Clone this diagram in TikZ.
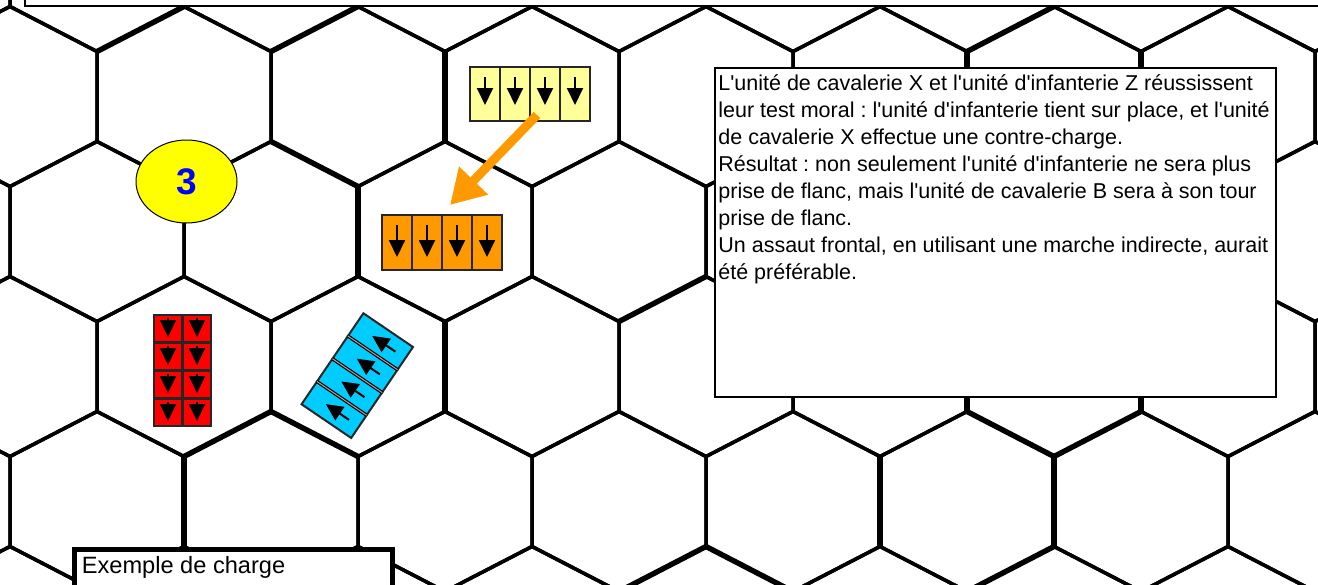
\documentclass[tikz,border=0pt]{standalone}
\usepackage{fontspec}
\newfontfamily\arial{Liberation Sans}
\usepackage{tikz}
\usetikzlibrary{shapes.geometric, arrows.meta}
\definecolor{jaunepale}{HTML}{FFFF99}
\definecolor{orangepion}{HTML}{FF9900}
\definecolor{rougepion}{HTML}{FF0000}
\definecolor{cyanpion}{HTML}{00CCFF}
\definecolor{jaunemarque}{HTML}{FFFF00}
\definecolor{bleumarque}{HTML}{0000FF}
\definecolor{orangefleche}{HTML}{FF9900}
\tikzset{
  hexline/.style={line width=1.75pt, black},
  hexfort/.style={line width=2.7pt, black},
  boite/.style={draw=black, fill=white, line width=0.7pt},
  titrebox/.style={draw=black, fill=white, line width=2.6pt},
  pion/.style={draw=black!85, line width=1pt},
  separation/.style={double=gray!70, double distance=0.5pt, line width=0.6pt},
  fleche/.style={-{Triangle[length=8.5pt,width=8pt]}, line width=1pt, black},
  chargearr/.style={-{Triangle[length=17pt,width=19pt]}, line width=4.5pt, orangefleche},
  marqueur/.style={ellipse, draw=black, line width=0.5pt, fill=jaunemarque, minimum width=50.5pt, minimum height=41.5pt, inner sep=0pt, text=bleumarque, font=\arial\bfseries\fontsize{18.5}{20}\selectfont},
  texte/.style={align=left, inner sep=0pt, anchor=base west},
}
\begin{document}
\begin{tikzpicture}[x=0.5pt, y=-0.5pt, font=\arial\frenchspacing\fontsize{10.75}{13.5}\selectfont]
  \useasboundingbox (0,0) rectangle (1318,584);
  \begin{scope}
    \clip (0,0) rectangle (1318,584);

    % Plateau hexagonal
    \foreach \r in {0,...,5} {
      \foreach \k in {-1,...,8} {
        \pgfmathsetmacro{\hx}{10+174*\k+87*mod(\r+1,2)}
        \pgfmathsetmacro{\hy}{96.5+135*(\r-1)}
        \draw[hexline] (\hx,\hy) +(0,-90) -- +(87,-45) -- +(87,45) -- +(0,90) -- +(-87,45) -- +(-87,-45) -- cycle;
      }
    }
    \foreach \xa/\ya/\xb/\yb in {97/51.5/184/6.5, 271/51.5/358/6.5, 967/51.5/1054/6.5, 445/51.5/445/141.5,
      967/51.5/967/141.5, 1141/51.5/1141/141.5, 271/141.5/358/186.5, 358/186.5/358/276.5,
      184/456.5/271/411.5, 271/411.5/358/456.5, 184/456.5/184/546.5, 706/276.5/619/321.5,
      445/321.5/445/411.5, 619/591.5/706/546.5, 706/546.5/793/591.5, 880/456.5/880/546.5,
      967/321.5/967/411.5, 1141/321.5/1141/411.5, 967/411.5/1054/456.5, 1054/456.5/1141/411.5,
      1054/456.5/1054/546.5, 1054/546.5/967/591.5}
      \draw[hexfort] (\xa,\ya) -- (\xb,\yb);

    % Cadres
    \draw[boite] (25,-10) rectangle (1330,6);
    \draw[boite] (715,68) rectangle (1276,397);
    \draw[titrebox] (74.5,549.5) rectangle (392.5,620);
  \end{scope}

  % Cavalerie qui charge
  \foreach \i in {0,...,3} {
    \draw[pion, fill=jaunepale] (470+30*\i,67) rectangle ++(30,54);
    \draw[fleche] (485+30*\i,77) -- ++(0,28);
  }
  % Position d'arrivee
  \foreach \i in {0,...,3} {
    \draw[pion, fill=orangepion] (382+30*\i,215) rectangle ++(30,55);
    \draw[fleche] (397+30*\i,225) -- ++(0,32);
  }
  % Infanterie
  \foreach \c in {0,1} {
    \foreach \l in {0,...,3} {
      \draw[pion, fill=rougepion] (154+29*\c,315+28*\l) rectangle ++(28,27);
      \draw[fleche] (168+29*\c,318+28*\l) -- ++(0,19);
    }
  }
  % Cavalerie en contre-charge
  \begin{scope}[shift={(413,347)}, rotate=235.8]
    \foreach \i in {0,...,3} {
      \draw[pion, fill=cyanpion] (27.5*\i,0) rectangle ++(27.5,60);
      \draw[fleche] (13.75+27.5*\i,12) -- ++(0,28);
    }
    \foreach \i in {1,2,3} \draw[separation] (27.5*\i,0) -- ++(0,60);
  \end{scope}

  \coordinate (depart) at (537,115);
  \coordinate (arrivee) at (450,205);
  \draw[chargearr] (depart) -- (arrivee);

  \node[marqueur] (marqueur) at (186.5,181.5) {3};

  % Textes
  \node[texte] (consigne) at (718,279) {L'unité de cavalerie X et l'unité d'infanterie Z réussissent\\leur test moral : l'unité d'infanterie tient sur place, et l'unité\\de cavalerie X effectue une contre-charge.\\Résultat : non seulement l'unité d'infanterie ne sera plus\\prise de flanc, mais l'unité de cavalerie B sera à son tour\\prise de flanc.\\Un assaut frontal, en utilisant une marche indirecte, aurait\\été préférable.};
  \node[texte, font=\arial\fontsize{11.8}{14}\selectfont] (titre) at (81.5,573) {Exemple de charge};
\end{tikzpicture}
\end{document}
